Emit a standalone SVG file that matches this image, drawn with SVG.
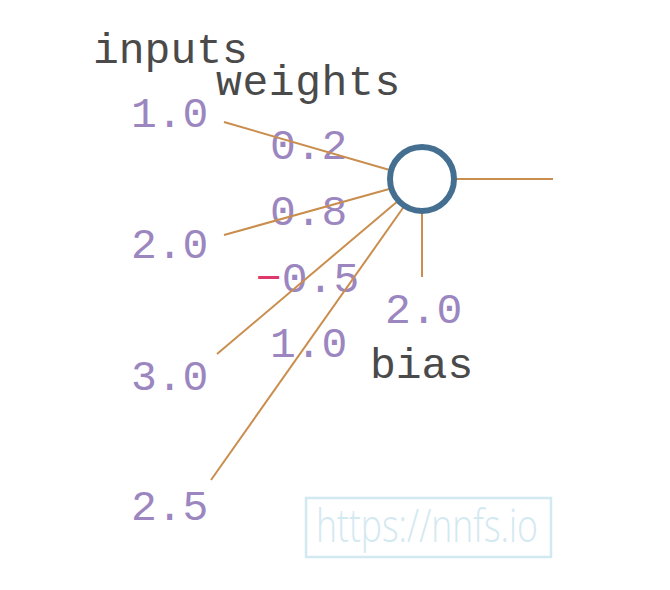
<svg xmlns="http://www.w3.org/2000/svg" width="670" height="590" viewBox="0 0 670 590">
<style>
.mono{font-family:"Liberation Mono","Courier New",monospace;font-size:43px}
.lab{fill:#4a4a4a}
.num{fill:#9b86c0}
.neg{fill:#e0376c}
.conn{stroke:#c98e4e;stroke-width:2;fill:none;stroke-linecap:butt}
.wm{font-family:"Open Sans","Noto Sans","Liberation Sans",sans-serif;font-weight:300;font-size:46px;fill:#d3e9f1}
</style>
<rect width="670" height="590" fill="#ffffff"/>
<g id="labels">
<text class="mono lab" x="93" y="63">inputs</text>
<text class="mono lab" x="216" y="95" letter-spacing="0.6">weights</text>
<text class="mono lab" x="370" y="378">bias</text>
</g>
<g id="input-1"><text class="mono num" x="131" y="127">1.0</text></g>
<g id="input-2"><text class="mono num" x="131" y="258">2.0</text></g>
<g id="input-3"><text class="mono num" x="131" y="390">3.0</text></g>
<g id="input-4"><text class="mono num" x="131" y="520">2.5</text></g>
<g id="weights">
<text class="mono num" x="270" y="159">0.2</text>
<text class="mono num" x="270" y="225">0.8</text>
<text class="mono" x="256" y="292"><tspan class="neg">−</tspan><tspan class="num">0.5</tspan></text>
<text class="mono num" x="270" y="357">1.0</text>
</g>
<g id="bias"><text class="mono num" x="385" y="323">2.0</text></g>
<g id="connectors">
<line class="conn" x1="224" y1="122" x2="400" y2="173"/>
<line class="conn" x1="224" y1="235" x2="400" y2="186"/>
<line class="conn" x1="217" y1="354" x2="405" y2="195"/>
<line class="conn" x1="211" y1="480" x2="410" y2="198"/>
<line class="conn" x1="440" y1="179" x2="553" y2="179"/>
<line class="conn" x1="422" y1="200" x2="422" y2="277"/>
</g>
<g id="neuron"><circle cx="422" cy="179" r="32" fill="#ffffff" stroke="#456f91" stroke-width="6"/></g>
<g id="watermark">
<rect x="306" y="498" width="245" height="59" fill="none" stroke="#d3e9f1" stroke-width="2.5"/>
<text class="wm" x="316" y="542" textLength="222" lengthAdjust="spacingAndGlyphs">https://nnfs.io</text>
</g>
</svg>
